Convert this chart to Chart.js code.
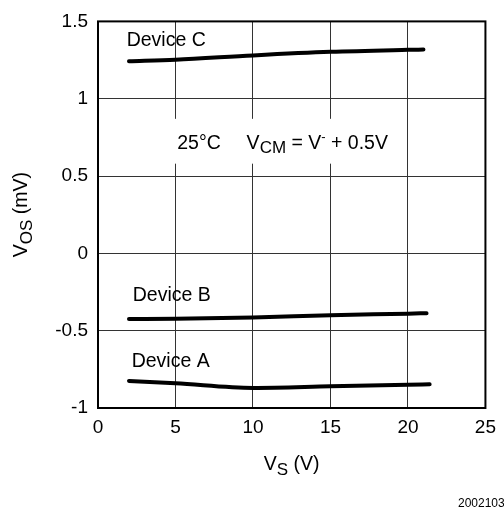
<!DOCTYPE html>
<html>
<head>
<meta charset="utf-8">
<script src="https://cdn.jsdelivr.net/npm/chart.js@4.4.0/dist/chart.umd.min.js"></script>
<style>
html, body { margin: 0; padding: 0; background: #fff; }
</style>
</head>
<body>
<canvas id="graphic" width="504" height="508"></canvas>
<script>
const vsA = [2, 5, 10, 15, 20, 21.4]
const vosA = [-0.825, -0.84, -0.87, -0.86, -0.85, -0.846]
const vsB = [2, 5, 10, 15, 20, 21.2]
const vosB = [-0.425, -0.423, -0.415, -0.4, -0.39, -0.387]
const vsC = [2, 5, 10, 15, 20, 21]
const vosC = [1.242, 1.252, 1.28, 1.303, 1.316, 1.318]
const xTicks = [0, 5, 10, 15, 20, 25]
const yTicks = [-1, -0.5, 0, 0.5, 1, 1.5]

const fam = '"Liberation Sans", Arial, sans-serif'
const mygraph = document.getElementById('graphic')

const toPoints = (xs, ys) => xs.map((v, i) => ({ x: v, y: ys[i] }))

const serie = (nombre, xs, ys) => ({
  label: nombre,
  data: toPoints(xs, ys),
  showLine: true,
  borderColor: '#000',
  borderWidth: 4,
  borderCapStyle: 'round',
  borderJoinStyle: 'round',
  cubicInterpolationMode: 'monotone',
  pointRadius: 0
})

// text runs with sub/superscripts, drawn piece by piece
const richText = (ctx, parts, x, y, align) => {
  let total = 0
  parts.forEach(p => {
    ctx.font = (p.size || 19.5) + 'px ' + fam
    p.w = ctx.measureText(p.t).width
    total += p.w
  })
  let cx = align === 'center' ? x - total / 2 : x
  parts.forEach(p => {
    ctx.font = (p.size || 19.5) + 'px ' + fam
    ctx.fillText(p.t, cx, y + (p.dy || 0))
    cx += p.w
  })
}

const notas = {
  id: 'notas',
  beforeDatasetsDraw(chart) {
    const { ctx, scales: { x, y } } = chart
    // break the grid behind the test conditions
    ctx.save()
    ctx.fillStyle = '#fff'
    const x0 = x.getPixelForValue(4.6), x1 = x.getPixelForValue(19.2)
    const y0 = y.getPixelForValue(0.87), y1 = y.getPixelForValue(0.58)
    ctx.fillRect(x0, y0, x1 - x0, y1 - y0)
    ctx.restore()
  },
  afterDraw(chart) {
    const { ctx, chartArea: a, scales: { x, y } } = chart
    ctx.save()
    ctx.strokeStyle = '#000'
    ctx.lineWidth = 2
    ctx.strokeRect(a.left, a.top, a.right - a.left, a.bottom - a.top)

    ctx.fillStyle = '#000'
    ctx.textBaseline = 'alphabetic'
    ctx.textAlign = 'left'
    richText(ctx, [{ t: 'Device C' }], x.getPixelForValue(1.85), y.getPixelForValue(1.34))
    richText(ctx, [{ t: 'Device B' }], x.getPixelForValue(2.24), y.getPixelForValue(-0.308))
    richText(ctx, [{ t: 'Device A' }], x.getPixelForValue(2.17), y.getPixelForValue(-0.737))
    richText(ctx, [{ t: '25°C' }], x.getPixelForValue(5.11), y.getPixelForValue(0.673))
    richText(ctx, [
      { t: 'V' }, { t: 'CM', size: 17, dy: 4 }, { t: ' = V' },
      { t: '-', size: 13, dy: -8 }, { t: ' + 0.5V' }
    ], x.getPixelForValue(9.59), y.getPixelForValue(0.673))

    // axis titles
    const midX = (a.left + a.right) / 2
    richText(ctx, [{ t: 'V' }, { t: 'S', size: 17, dy: 5 }, { t: ' (V)' }], midX, 470, 'center')

    ctx.translate(27, (a.top + a.bottom) / 2)
    ctx.rotate(-Math.PI / 2)
    richText(ctx, [{ t: 'V' }, { t: 'OS', size: 17, dy: 5 }, { t: ' (mV)' }], 0, 0, 'center')
    ctx.restore()

    ctx.save()
    ctx.fillStyle = '#000'
    ctx.font = '12px ' + fam
    ctx.fillText('20021032', 458, 507)
    ctx.restore()
  }
}

const config = {
  type: 'scatter',
  data: {
    datasets: [
      serie('Device A', vsA, vosA),
      serie('Device B', vsB, vosB),
      serie('Device C', vsC, vosC)
    ]
  },
  options: {
    responsive: false,
    animation: false,
    devicePixelRatio: 1,
    layout: { padding: { left: 0, right: 15, top: 18, bottom: 0 } },
    plugins: { legend: { display: false }, tooltip: { enabled: false } },
    scales: {
      x: {
        type: 'linear',
        min: 0,
        max: 25,
        afterBuildTicks: (s) => { s.ticks = xTicks.map(v => ({ value: v })) },
        afterFit: (s) => { s.height = 100 },
        grid: { color: '#333', lineWidth: 1, drawTicks: false },
        border: { display: false },
        ticks: {
          color: '#000',
          padding: 8,
          maxRotation: 0,
          font: { family: fam, size: 19 },
          callback: (v) => String(v)
        }
      },
      y: {
        type: 'linear',
        min: -1,
        max: 1.5,
        afterBuildTicks: (s) => { s.ticks = yTicks.map(v => ({ value: v })) },
        afterFit: (s) => { s.width = 98 },
        grid: { color: '#333', lineWidth: 1, drawTicks: false },
        border: { display: false },
        ticks: {
          color: '#000',
          padding: 10,
          font: { family: fam, size: 19 },
          callback: (v) => String(v)
        }
      }
    }
  },
  plugins: [notas]
}

new Chart(mygraph, config)
</script>
</body>
</html>
